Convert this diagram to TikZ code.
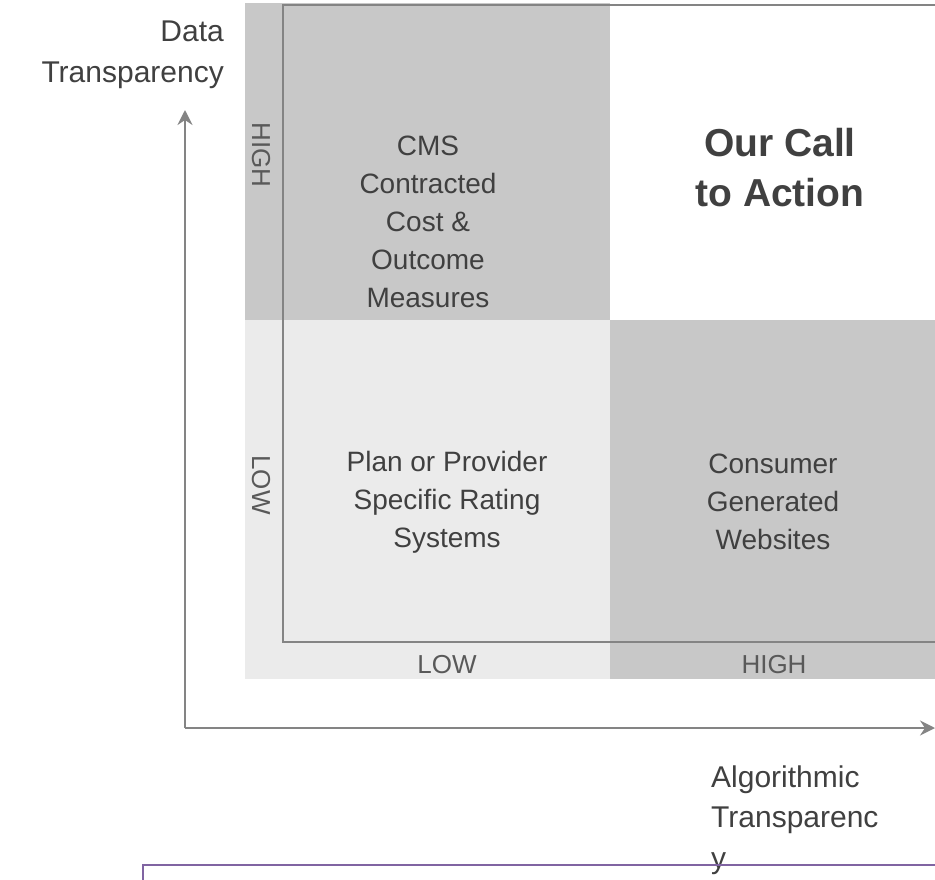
\documentclass[tikz,border=0pt]{standalone}
\usepackage{fontspec}
\setmainfont{Liberation Sans}
\usepackage{xcolor}
\usetikzlibrary{arrows.meta}

\definecolor{panelDark}{HTML}{C8C8C8}
\definecolor{panelLight}{HTML}{EBEBEB}
\definecolor{frameGray}{HTML}{848484}
\definecolor{textGray}{HTML}{404040}
\definecolor{labelGray}{HTML}{595959}
\definecolor{boxPurple}{HTML}{8064A2}

\begin{document}
\begin{tikzpicture}[x=1pt, y=-1pt,
    quadtext/.style={align=center, inner sep=0pt, text=textGray, font=\fontsize{28}{38}\selectfont},
    levellabel/.style={inner sep=0pt, text=labelGray, font=\fontsize{26}{30}\selectfont},
    axislabel/.style={inner sep=0pt, text=textGray, font=\fontsize{30}{40.5}\selectfont},
    axisline/.style={draw=frameGray, line width=2.5pt, -{Stealth[length=15pt, width=15pt, inset=5pt]}}]
        \useasboundingbox (0,0) rectangle (935,880);

        % Define quadrants as filled rectangles
        \fill[panelDark] (245,3) rectangle (610,320);
        \fill[panelLight] (245,320) rectangle (610,679);
        \fill[panelDark] (610,320) rectangle (935,679);

        % Define inner frame
        \draw[frameGray, line width=2pt] (283,5) rectangle (945,642);

        % Define quadrant texts
        \node[quadtext] (CMS) at (428,222) {CMS\\Contracted\\Cost \&\\Outcome\\Measures};
        \node[quadtext, font=\fontsize{39}{50}\selectfont\bfseries] (Call) at (780,168) {Our Call\\to Action};
        \node[quadtext] (Plan) at (447,502) {Plan or Provider\\Specific Rating\\Systems};
        \node[quadtext] (Consumer) at (773,502) {Consumer\\Generated\\Websites};

        % Define level labels
        \node[levellabel, rotate=-90] (HighY) at (261,155) {HIGH};
        \node[levellabel, rotate=-90] (LowY) at (261,485) {LOW};
        \node[levellabel] (LowX) at (447,665) {LOW};
        \node[levellabel] (HighX) at (774,665) {HIGH};

        % Define axes
        \coordinate (O) at (185,728);
        \coordinate (Ytip) at (185,110);
        \coordinate (Xtip) at (935,728);
        \draw[axisline] (O) -- (Ytip);
        \draw[axisline] (O) -- (Xtip);

        % Define axis labels
        \node[axislabel, align=right, anchor=east] (DataT) at (224,55) {Data\\Transparency};
        \node[axislabel, align=left, anchor=west] (AlgoT) at (711,820) {Algorithmic\\Transparenc\\y};

        % Define purple box below
        \draw[boxPurple, line width=2pt] (143,865) rectangle (945,900);
    \end{tikzpicture}
\end{document}
